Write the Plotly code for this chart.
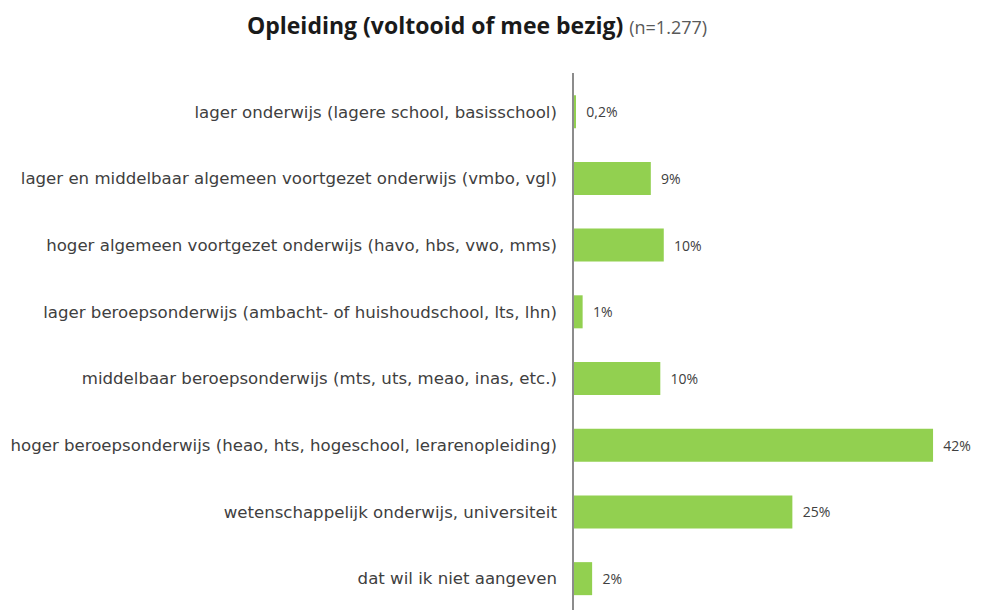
import plotly.graph_objects as go

categories = [
    "lager onderwijs (lagere school, basisschool)",
    "lager en middelbaar algemeen voortgezet onderwijs (vmbo, vgl)",
    "hoger algemeen voortgezet onderwijs (havo, hbs, vwo, mms)",
    "lager beroepsonderwijs (ambacht- of huishoudschool, lts, lhn)",
    "middelbaar beroepsonderwijs (mts, uts, meao, inas, etc.)",
    "hoger beroepsonderwijs (heao, hts, hogeschool, lerarenopleiding)",
    "wetenschappelijk onderwijs, universiteit",
    "dat wil ik niet aangeven",
]
values = [0.2, 8.9, 10.4, 1.0, 10.0, 41.6, 25.3, 2.1]
value_labels = ["0,2%", "9%", "10%", "1%", "10%", "42%", "25%", "2%"]

fig = go.Figure(
    go.Bar(
        y=categories,
        x=values,
        orientation="h",
        marker=dict(color="#92D050", line=dict(width=0)),
        width=0.495,
        text=["  " + t for t in value_labels],
        textposition="outside",
        textfont=dict(family="Open Sans, sans-serif", size=14, color="#404040"),
        cliponaxis=False,
        constraintext="none",
        hoverinfo="skip",
    )
)

fig.update_layout(
    width=983,
    height=610,
    margin=dict(l=574, r=18, t=73, b=0),
    paper_bgcolor="white",
    plot_bgcolor="white",
    showlegend=False,
    title=dict(
        text="<b>Opleiding (voltooid of mee bezig)</b> <span style='font-size:18px;font-weight:normal;color:#595959'>(n=1.277)</span>",
        x=477 / 983,
        xanchor="center",
        xref="container",
        y=1 - 26 / 610,
        yanchor="middle",
        font=dict(family="Open Sans, sans-serif", size=23, color="#1a1a1a"),
    ),
    xaxis=dict(
        range=[0, 45.3],
        visible=False,
        showgrid=False,
        zeroline=False,
    ),
    yaxis=dict(
        type="category",
        range=[7.47, -0.58],
        showline=True,
        linecolor="#8c8c8c",
        linewidth=1.5,
        ticks="",
        ticklabelstandoff=12,
        showgrid=False,
        tickfont=dict(family="DejaVu Sans, sans-serif", size=16.6, color="#404040"),
    ),
)

fig.write_html(
    "out.html",
    config={"displayModeBar": False},
    post_script="document.body.style.margin='0';",
)
